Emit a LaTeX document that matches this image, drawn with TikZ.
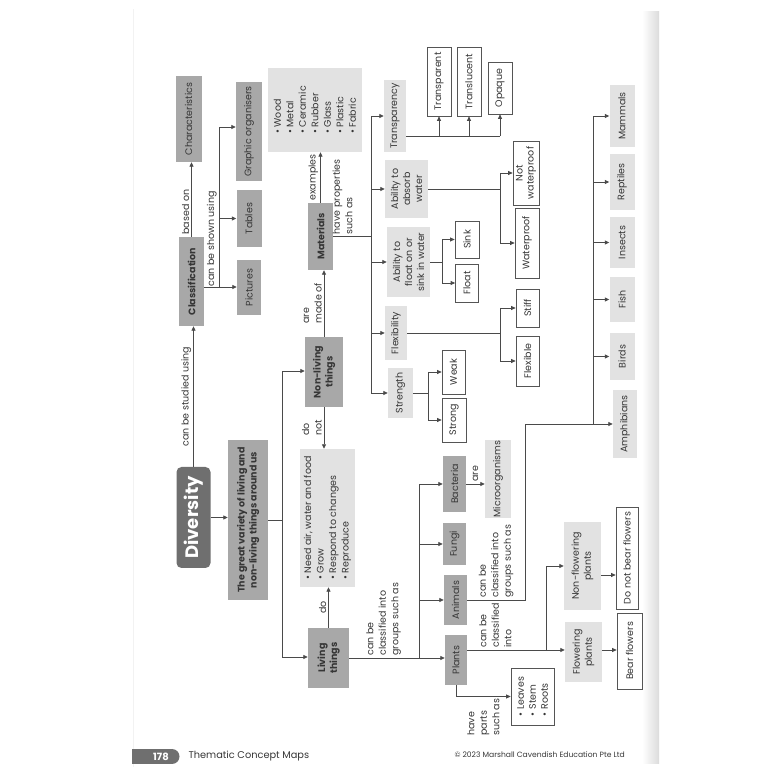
\documentclass[tikz,border=0pt]{standalone}
\usepackage{fontspec}
\setmainfont{Poppins}
\usepackage{tikz}
\usetikzlibrary{arrows.meta,positioning}
\definecolor{ink}{HTML}{363636}
\definecolor{wire}{HTML}{4A4A4A}
\definecolor{divgray}{HTML}{6F6F6F}
\definecolor{midgray}{HTML}{A8A8A8}
\definecolor{softgray}{HTML}{E2E2E2}
\definecolor{edge}{HTML}{555555}
\newcommand{\mapfont}{\fontsize{9.5}{12}\selectfont}
\tikzset{
  box/.style={inner sep=1pt, align=center, text=ink},
  sized/.style 2 args={minimum width=#1, minimum height=#2},
  headline/.style={box, fill=divgray, text=white, rounded corners=5pt, font=\fontsize{18}{20}\selectfont\bfseries},
  concept/.style={box, fill=midgray, font=\mapfont\bfseries},
  group/.style={box, fill=midgray},
  detail/.style={box, fill=softgray},
  answer/.style={box, draw=edge, line width=0.7pt, fill=white},
  listbox/.style={box, fill=softgray, align=left, font=\fontsize{9.5}{12.5}\selectfont},
  link/.style={draw=wire, line width=0.8pt},
  flow/.style={link, -{Triangle[length=4.5pt,width=4pt]}},
  linklabel/.style={text=ink, align=left, inner sep=2pt, font=\fontsize{9.5}{12.5}\selectfont}
}

\begin{document}
\begin{tikzpicture}[x=1pt, y=1pt, font=\mapfont]
  \useasboundingbox (0,0) rectangle (779,779);
  % page edge
  \shade[left color=white, right color=gray!28] (642,15) rectangle (659,767);
  \draw[gray!10] (133,12) -- (133,770);

  \begin{scope}[shift={(779,0)}, rotate=90, transform shape]
    % top of the map
    \node[headline, sized={101}{34}] (diversity) at (261.5,585.5) {Diversity};
    \node[concept, sized={160}{40}] (meaning) at (259,531) {The great variety of living and\\non-living things around us};

    \node[concept, sized={89}{25}] (classif) at (497.5,587.5) {Classification};
    \node[group, sized={86}{26}] (charac) at (660,590.5) {Characteristics};
    \node[group, sized={99}{26}] (graphic) at (647.5,530) {Graphic organisers};
    \node[group, sized={57}{25}] (tables) at (560.5,530) {Tables};
    \node[group, sized={55}{24}] (pictures) at (491.5,530) {Pictures};
    \coordinate (showfrom) at (492,560);
    \coordinate (showto) at (652,560);

    \draw[flow] (diversity.east) -- node[linklabel, above] {can be studied using} (diversity.east -| classif.west);
    \draw[flow] (classif.east) -- node[linklabel, above, pos=0.33] {based on} (classif.east -| charac.west);
    \draw[flow] (classif.south -| showfrom) -- (pictures.north -| showfrom);
    \draw[link] (showfrom) -- node[linklabel, above, pos=0.3] {can be shown using} (showto);
    \draw[flow] (showto) -- (showto |- graphic.north);
    \draw[flow] (showfrom -| tables.north) -- (tables.north);

    % living and non-living
    \coordinate (kindtop) at (408,497);
    \coordinate (kindlow) at (122,497);
    \node[concept, sized={70}{38}] (nonliving) at (407,455) {Non-living\\things};
    \node[concept, sized={60}{41}] (living) at (121,450.5) {Living\\things};
    \node[listbox, sized={138}{55}] (needs) at (261,451.5) {\textbullet\ Need air, water and food\\\textbullet\ Grow\\\textbullet\ Respond to changes\\\textbullet\ Reproduce};

    \draw[flow] (diversity.south) -- (diversity.south |- meaning.north);
    \draw[link] (meaning.south) -- (meaning.south |- kindtop);
    \draw[link] (kindlow) -- (kindtop);
    \draw[flow] (kindtop) -- (kindtop |- nonliving.north);
    \draw[flow] (kindlow) -- (kindlow |- living.north);
    \draw[flow] (nonliving.west) -- node[linklabel, above] {do\\not} (nonliving.west -| needs.east);
    \draw[flow] (living.east) -- node[linklabel, above] {do} (living.east -| needs.west);

    % materials
    \node[concept, sized={67}{25}] (materials) at (542.5,458.5) {Materials};
    \node[listbox, sized={84}{94}] (examples) at (669,464) {\textbullet\ Wood\\\textbullet\ Metal\\\textbullet\ Ceramic\\\textbullet\ Rubber\\\textbullet\ Glass\\\textbullet\ Plastic\\\textbullet\ Fabric};
    \draw[flow] (nonliving.east) -- node[linklabel, above] {are\\made of} (nonliving.east -| materials.west);
    \draw[flow] (materials.east) -- node[linklabel, above] {examples} (materials.east -| examples.west);

    % properties
    \coordinate (proptop) at (663,408);
    \coordinate (proplow) at (386,408);
    \node[detail, sized={72}{22}] (transp) at (663,384) {Transparency};
    \node[detail, sized={58}{43}] (absorb) at (590,372.5) {Ability to\\absorb\\water};
    \node[detail, sized={70}{43}] (floatsink) at (517,370.5) {Ability to\\float on or\\sink in water};
    \node[detail, sized={54}{22}] (flexib) at (446,383) {Flexibility};
    \node[detail, sized={50}{25}] (strength) at (386,378.5) {Strength};

    \draw[link] (materials.south) -- node[linklabel, right, pos=0.25] {have properties\\such as} (materials.south |- proptop);
    \draw[link] (proplow) -- (proptop);
    \foreach \p in {transp,absorb,floatsink,flexib,strength}
      \draw[flow] (\p.north |- proptop) -- (\p.north);

    \node[answer, sized={69}{24}] (transparent) at (697.5,340) {Transparent};
    \node[answer, sized={69}{24}] (translucent) at (697.5,310) {Translucent};
    \node[answer, sized={52}{24}] (opaque) at (691,279) {Opaque};
    \node[answer, sized={64}{26}] (notwp) at (606,253) {Not\\[-1pt]waterproof};
    \node[answer, sized={70}{24}] (waterproof) at (536,252) {Waterproof};
    \node[answer, sized={37}{24}] (sink) at (539.5,312) {Sink};
    \node[answer, sized={38}{23}] (floatans) at (496,312) {Float};
    \node[answer, sized={38}{23}] (stiff) at (471,251.5) {Stiff};
    \node[answer, sized={50}{23}] (flexible) at (418,251.5) {Flexible};
    \node[answer, sized={44}{23}] (weak) at (407,325.5) {Weak};
    \node[answer, sized={44}{24}] (strong) at (359,325) {Strong};

    \coordinate (lightline) at (643,0);
    \draw[link] (transp.south -| lightline) -- (lightline |- opaque.west);
    \foreach \t in {transparent,translucent,opaque}
      \draw[flow] (lightline |- \t.west) -- (\t.west);

    \coordinate (waterline) at (0,279);
    \draw[link] (absorb.south) -- (absorb.south |- waterline);
    \draw[link] (notwp.north |- waterline) -- (waterproof.north |- waterline);
    \foreach \w in {notwp,waterproof}
      \draw[flow] (\w.north |- waterline) -- (\w.north);

    \coordinate (sinkline) at (0,337);
    \draw[link] (floatsink.south) -- (floatsink.south |- sinkline);
    \draw[link] (sink.north |- sinkline) -- (floatans.north |- sinkline);
    \foreach \w in {sink,floatans}
      \draw[flow] (\w.north |- sinkline) -- (\w.north);

    \coordinate (bendline) at (0,279);
    \draw[link] (flexib.south) -- (flexib.south |- bendline);
    \draw[link] (stiff.north |- bendline) -- (flexible.north |- bendline);
    \foreach \w in {stiff,flexible}
      \draw[flow] (\w.north |- bendline) -- (\w.north);

    \coordinate (hardline) at (0,351);
    \draw[link] (strength.south) -- (strength.south |- hardline);
    \draw[link] (weak.north |- hardline) -- (strong.north |- hardline);
    \foreach \w in {weak,strong}
      \draw[flow] (\w.north |- hardline) -- (\w.north);

    % living things groups
    \node[group, sized={56}{23}] (bacteria) at (295,324.5) {Bacteria};
    \node[group, sized={42}{23}] (fungi) at (235,324.5) {Fungi};
    \node[group, sized={50}{23}] (animals) at (179,323.5) {Animals};
    \node[group, sized={50}{22}] (plants) at (119,323) {Plants};
    \node[detail, sized={78}{26}] (microbes) at (300,281) {Microorganisms};
    \coordinate (groupline) at (0,360);

    \draw[flow] (living.south) -- node[linklabel, right, pos=0.36] {can be\\classified into\\groups such as} (living.south |- plants.north);
    \draw[link] (living.south |- groupline) -- (bacteria.north |- groupline);
    \foreach \g in {bacteria,fungi,animals}
      \draw[flow] (\g.north |- groupline) -- (\g.north);
    \draw[flow] (bacteria.south) -- node[linklabel, right] {are} (bacteria.south |- microbes.north);

    % animal classes
    \coordinate (classtop) at (663,186);
    \coordinate (animbend) at (355,254);
    \node[detail, sized={62}{25}] (mammals) at (663,157) {Mammals};
    \node[detail, sized={56}{25}] (reptiles) at (597,157) {Reptiles};
    \node[detail, sized={51}{25}] (insects) at (536.5,157) {Insects};
    \node[detail, sized={45}{25}] (fish) at (479.5,157) {Fish};
    \node[detail, sized={47}{25}] (birds) at (422.5,157) {Birds};
    \node[detail, sized={68}{24}] (amphib) at (355,154) {Amphibians};

    \draw[flow] (animals.south) -- node[linklabel, right] {can be\\classified into\\groups such as} (animals.south |- animbend) -- (animbend) -- (amphib.north);
    \draw[link] (amphib.north |- classtop) -- (classtop);
    \foreach \a in {mammals,reptiles,insects,fish,birds}
      \draw[flow] (\a.north |- classtop) -- (\a.north);

    % plant kinds
    \coordinate (plantbend) at (129,233);
    \coordinate (nobearline) at (204,0);
    \node[detail, sized={60}{37}] (flowering) at (127,195.5) {Flowering\\plants};
    \node[detail, sized={88}{37}] (nonflow) at (213,196.5) {Non-flowering\\plants};
    \node[answer, sized={76}{25}] (bear) at (128,149.5) {Bear flowers};
    \node[answer, sized={102}{22}] (nobear) at (221,152) {Do not bear flowers};
    \node[answer, align=left, sized={57}{43}, font=\fontsize{9.5}{12}\selectfont] (parts) at (82.5,246.5) {\textbullet\ Leaves\\\textbullet\ Stem\\\textbullet\ Roots};

    \draw[flow] (plants.south -| plantbend) -- node[linklabel, right, pos=0.29] {can be\\classified\\into} (flowering.north -| plantbend);
    \draw[flow] (plantbend) -| (nonflow.north);
    \draw[flow] (flowering.south -| plantbend) -- (bear.north -| plantbend);
    \draw[flow] (nonflow.south -| nobearline) -- (nobear.north -| nobearline);
    \draw[flow] (plants.west) -| node[linklabel, left, pos=0.75] {have\\parts\\such as} (parts.north);
  \end{scope}

  % footer
  \fill[divgray] (132,15) rectangle (172,30);
  \fill[divgray] (172,22.5) circle (7.5);
  \node[font=\fontsize{10}{12}\selectfont\bfseries, text=white] (pagenum) at (161,22.5) {178};
  \node[anchor=west, text=ink, font=\fontsize{9.8}{12}\selectfont] (pagetitle) at (185,22.5) {Thematic Concept Maps};
  \node[anchor=west, text=ink, font=\fontsize{7.6}{9}\selectfont] (copyright) at (451,24) {\textcopyright{} 2023 Marshall Cavendish Education Pte Ltd};
\end{tikzpicture}
\end{document}
